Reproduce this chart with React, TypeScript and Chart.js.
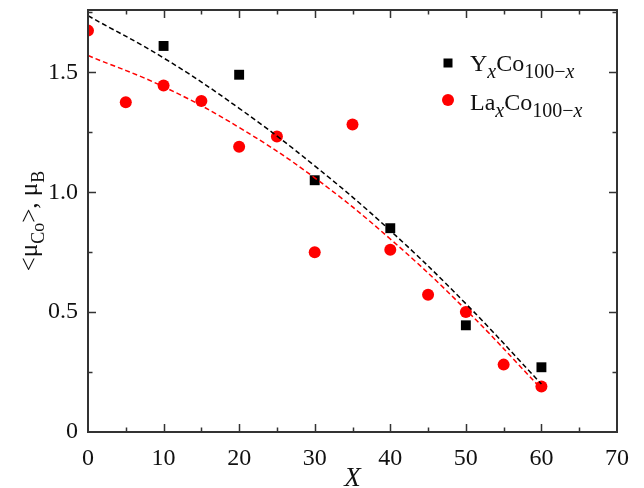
import React, { useEffect, useRef } from "react";
import { Chart, registerables } from "chart.js";

Chart.register(...registerables);

// Y_xCo_{100-x} (black squares)
const yCoX = [10, 20, 30, 40, 50, 60];
const yCoVal = [1.61, 1.49, 1.05, 0.85, 0.445, 0.27];

// La_xCo_{100-x} (red circles)
const laCoX = [0, 5, 10, 15, 20, 25, 30, 35, 40, 45, 50, 55, 60];
const laCoVal = [1.674, 1.375, 1.445, 1.38, 1.19, 1.232, 0.75, 1.282, 0.76, 0.572, 0.5, 0.281, 0.19];

// dashed guide curves
const fitX = [0, 10, 20, 30, 40, 50, 60];
const fitBlack = [1.736, 1.56, 1.35, 1.11, 0.84, 0.535, 0.2];
const fitRed = [1.57, 1.44, 1.27, 1.06, 0.805, 0.51, 0.18];

const xMajorTicks = [0, 10, 20, 30, 40, 50, 60, 70];
const xMinorTicks = [5, 15, 25, 35, 45, 55, 65];
const yMajorTicks = [0, 0.5, 1.0, 1.5];
const yMinorTicks = [0.25, 0.75, 1.25, 1.75];
const yTickLabels = ["0", "0.5", "1.0", "1.5"];

const SERIF = "\"Liberation Serif\", Tinos, \"Times New Roman\", serif";

type Piece = { t: string; size: number; italic?: boolean; sub?: boolean };

function drawPieces(ctx: CanvasRenderingContext2D, pieces: Piece[], x: number, y: number) {
  let cx = x;
  for (const p of pieces) {
    ctx.font = `${p.italic ? "italic " : ""}${p.size}px ${SERIF}`;
    ctx.fillText(p.t, cx, y + (p.sub ? 7 : 0));
    cx += ctx.measureText(p.t).width;
  }
  return cx - x;
}

function measurePieces(ctx: CanvasRenderingContext2D, pieces: Piece[]) {
  let w = 0;
  for (const p of pieces) {
    ctx.font = `${p.italic ? "italic " : ""}${p.size}px ${SERIF}`;
    w += ctx.measureText(p.t).width;
  }
  return w;
}

const framePlugin = {
  id: "frameAndDecor",
  afterDatasetsDraw(chart: any) {
    const { ctx, chartArea, scales } = chart;
    const { left, right, top, bottom } = chartArea;
    const xs = scales.x;
    const ys = scales.y;
    ctx.save();
    ctx.strokeStyle = "#333333";
    ctx.lineWidth = 2;
    ctx.strokeRect(left, top, right - left, bottom - top);
    ctx.lineWidth = 1.5;
    const major = 8;
    const minor = 4.5;
    ctx.beginPath();
    const xt = (v: number, len: number) => {
      const px = Math.round(xs.getPixelForValue(v)) + 0.5;
      ctx.moveTo(px, bottom);
      ctx.lineTo(px, bottom - len);
      ctx.moveTo(px, top);
      ctx.lineTo(px, top + len);
    };
    const yt = (v: number, len: number) => {
      const py = Math.round(ys.getPixelForValue(v)) + 0.5;
      ctx.moveTo(left, py);
      ctx.lineTo(left + len, py);
      ctx.moveTo(right, py);
      ctx.lineTo(right - len, py);
    };
    xMajorTicks.slice(1, -1).forEach((v) => xt(v, major));
    xMinorTicks.forEach((v) => xt(v, minor));
    yMajorTicks.slice(1).forEach((v) => yt(v, major));
    yMinorTicks.forEach((v) => yt(v, minor));
    ctx.stroke();

    ctx.fillStyle = "#111111";
    ctx.textBaseline = "alphabetic";
    ctx.textAlign = "left";

    // x axis title
    ctx.font = `italic 27px ${SERIF}`;
    const xw = ctx.measureText("X").width;
    ctx.fillText("X", (left + right) / 2 - xw / 2, 486);

    // y axis title
    const yTitle: Piece[] = [
      { t: "<\u03BC", size: 25 },
      { t: "Co", size: 18, sub: true },
      { t: ">, \u03BC", size: 25 },
      { t: "B", size: 18, sub: true },
    ];
    const tw = measurePieces(ctx, yTitle);
    ctx.save();
    ctx.translate(37, (top + bottom) / 2);
    ctx.rotate(-Math.PI / 2);
    drawPieces(ctx, yTitle, -tw / 2, 0);
    ctx.restore();

    // legend
    const row1: Piece[] = [
      { t: "Y", size: 24 },
      { t: "x", size: 20, italic: true, sub: true },
      { t: "Co", size: 24 },
      { t: "100\u2212", size: 20, sub: true },
      { t: "x", size: 20, italic: true, sub: true },
    ];
    const row2: Piece[] = [
      { t: "La", size: 24 },
      { t: "x", size: 20, italic: true, sub: true },
      { t: "Co", size: 24 },
      { t: "100\u2212", size: 20, sub: true },
      { t: "x", size: 20, italic: true, sub: true },
    ];
    ctx.fillStyle = "#000000";
    ctx.fillRect(443.5, 58.5, 9, 9);
    ctx.fillStyle = "#ff0000";
    ctx.beginPath();
    ctx.arc(448, 100, 6, 0, Math.PI * 2);
    ctx.fill();
    ctx.fillStyle = "#111111";
    drawPieces(ctx, row1, 470, 71);
    drawPieces(ctx, row2, 470, 110);
    ctx.restore();
  },
};

export default function App() {
  const ref = useRef<HTMLCanvasElement | null>(null);
  useEffect(() => {
    document.body.style.margin = "0";
    if (!ref.current) return;
    const chart = new Chart(ref.current, {
      type: "scatter",
      data: {
        datasets: [
          {
            type: "line",
            label: "fit Y",
            data: fitX.map((x, i) => ({ x, y: fitBlack[i] })),
            borderColor: "#000000",
            borderWidth: 1.5,
            borderDash: [5, 3],
            pointRadius: 0,
            fill: false,
            tension: 0.4,
            order: 0,
          },
          {
            type: "line",
            label: "fit La",
            data: fitX.map((x, i) => ({ x, y: fitRed[i] })),
            borderColor: "#ff0000",
            borderWidth: 1.5,
            borderDash: [5, 3],
            pointRadius: 0,
            fill: false,
            tension: 0.4,
            order: 0,
          },
          {
            label: "YxCo100-x",
            data: yCoX.map((x, i) => ({ x, y: yCoVal[i] })),
            pointStyle: "rect",
            pointRadius: 7,
            backgroundColor: "#000000",
            borderColor: "#000000",
            borderWidth: 0,
            clip: 0,
            order: 1,
          },
          {
            label: "LaxCo100-x",
            data: laCoX.map((x, i) => ({ x, y: laCoVal[i] })),
            pointStyle: "circle",
            pointRadius: 6,
            backgroundColor: "#ff0000",
            borderColor: "#ff0000",
            borderWidth: 0,
            clip: 0,
            order: 1,
          },
        ],
      },
      options: {
        animation: false,
        responsive: false,
        devicePixelRatio: 1,
        layout: { autoPadding: false, padding: { left: 0, top: 10, right: 27, bottom: 0 } },
        plugins: { legend: { display: false }, tooltip: { enabled: false } },
        scales: {
          x: {
            type: "linear",
            min: 0,
            max: 70,
            grid: { display: false, drawTicks: false },
            border: { display: false },
            afterBuildTicks: (s: any) => {
              s.ticks = xMajorTicks.map((v) => ({ value: v }));
            },
            afterFit: (s: any) => {
              s.height = 56;
              s.paddingLeft = 0;
              s.paddingRight = 0;
            },
            ticks: {
              padding: 12,
              color: "#111111",
              font: { family: SERIF, size: 24 },
              maxRotation: 0,
              callback: (v: any) => String(v),
            },
          },
          y: {
            type: "linear",
            min: 0,
            max: 1.76,
            grid: { display: false, drawTicks: false },
            border: { display: false },
            afterBuildTicks: (s: any) => {
              s.ticks = yMajorTicks.map((v) => ({ value: v }));
            },
            afterFit: (s: any) => {
              s.width = 88;
              s.paddingTop = 0;
              s.paddingBottom = 0;
            },
            ticks: {
              padding: 10,
              color: "#111111",
              font: { family: SERIF, size: 24 },
              callback: (v: any) => {
                const i = yMajorTicks.findIndex((t) => Math.abs(t - Number(v)) < 1e-6);
                return i >= 0 ? yTickLabels[i] : "";
              },
            },
          },
        },
      },
      plugins: [framePlugin],
    } as any);
    return () => {
      chart.destroy();
    };
  }, []);
  return (
    <div style={{ width: 644, height: 488 }}>
      <canvas ref={ref} width={644} height={488} style={{ display: "block" }} />
    </div>
  );
}
